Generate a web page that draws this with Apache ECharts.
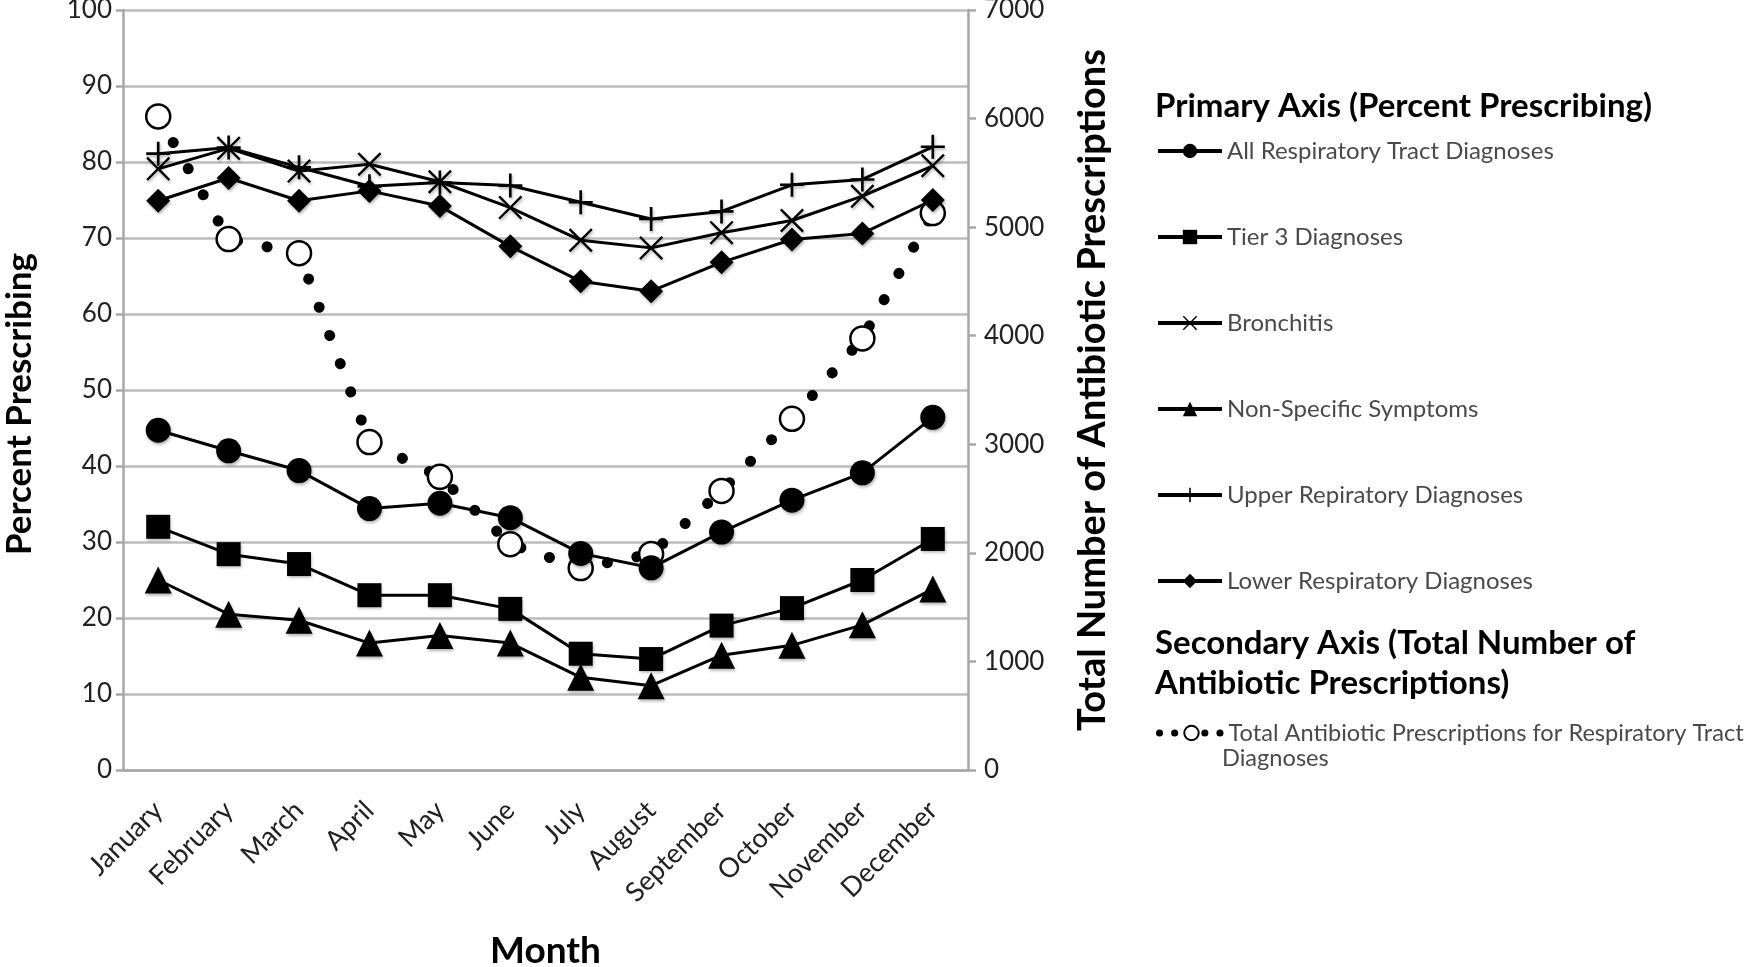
<!DOCTYPE html>
<html><head><meta charset="utf-8">
<script src="https://cdn.jsdelivr.net/npm/echarts@6/dist/echarts.min.js"></script>
<style>html,body{margin:0;padding:0;background:#fff}#c{width:1753px;height:967px}</style>
</head><body><div id="c"></div>
<script>
const months = ['January','February','March','April','May','June','July','August','September','October','November','December'];
const allResp = [44.7, 42.0, 39.4, 34.4, 35.1, 33.2, 28.5, 26.6, 31.3, 35.5, 39.1, 46.4];
const tier3 = [32.0, 28.4, 27.1, 23.0, 23.0, 21.2, 15.3, 14.6, 19.0, 21.3, 25.0, 30.4];
const nonSpecific = [25.0, 20.5, 19.7, 16.7, 17.7, 16.7, 12.2, 11.1, 15.1, 16.4, 19.1, 23.8];
const bronchitis = [79.1, 81.8, 78.8, 79.7, 77.4, 74.0, 69.7, 68.7, 70.7, 72.3, 75.5, 79.5];
const upperResp = [81.1, 81.9, 79.3, 76.8, 77.3, 76.9, 74.7, 72.5, 73.5, 77.0, 77.7, 82.0];
const lowerResp = [74.9, 77.9, 74.9, 76.2, 74.2, 68.9, 64.3, 63.0, 66.8, 69.8, 70.6, 75.0];
const totalRx = [6020, 4890, 4760, 3020, 2700, 2080, 1860, 1990, 2570, 3235, 3975, 5130];
const leftTicks = {min: 0, max: 100, interval: 10};
const rightTicks = {min: 0, max: 7000, interval: 1000};
const names = ['All Respiratory Tract Diagnoses','Tier 3 Diagnoses','Bronchitis','Non-Specific Symptoms','Upper Repiratory Diagnoses','Lower Respiratory Diagnoses'];
const totalName = 'Total Antibiotic Prescriptions for Respiratory Tract';

const FONT = 'Lato';
const xPath = 'path://M0,0.7 L0.7,0 L5,4.3 L9.3,0 L10,0.7 L5.7,5 L10,9.3 L9.3,10 L5,5.7 L0.7,10 L0,9.3 L4.3,5 Z';
const plusPath = 'path://M4.45,0 H5.55 V4.45 H10 V5.55 H5.55 V10 H4.45 V5.55 H0 V4.45 H4.45 Z';

function lineSeries(name, data, symbol, size) {
  return {
    name: name, type: 'line', data: data, yAxisIndex: 0, symbol: symbol, symbolSize: size, z: 3,
    lineStyle: {color: '#000', width: 3},
    itemStyle: {color: '#000', borderWidth: 0, shadowBlur: 3, shadowColor: 'rgba(0,0,0,0.3)', shadowOffsetX: 1, shadowOffsetY: 2}
  };
}

const chart = echarts.init(document.getElementById('c'), null, {renderer: 'canvas'});
chart.setOption({
  animation: false,
  backgroundColor: '#fff',
  textStyle: {fontFamily: FONT},
  grid: {left: 123, right: 785, top: 10, bottom: 197, containLabel: false, outerBoundsMode: 'none'},
  xAxis: {
    type: 'category', data: months, boundaryGap: true,
    axisLine: {show: true, lineStyle: {color: '#a8a8a8', width: 2.5}},
    axisTick: {show: false},
    axisLabel: {rotate: 45, margin: 36, fontSize: 27, color: '#222', fontFamily: FONT},
    name: 'Month', nameLocation: 'middle', nameGap: 163,
    nameTextStyle: {fontSize: 37, fontWeight: 'bold', color: '#000', fontFamily: FONT}
  },
  yAxis: [
    {
      type: 'value', min: leftTicks.min, max: leftTicks.max, interval: leftTicks.interval, position: 'left',
      axisLine: {show: true, lineStyle: {color: '#a8a8a8', width: 2.5}},
      axisTick: {show: true, length: 7, lineStyle: {color: '#a8a8a8', width: 2.5}},
      splitLine: {show: true, lineStyle: {color: '#bdbdbd', width: 2.5}},
      axisLabel: {fontSize: 26, color: '#222', margin: 11, fontFamily: FONT},
      name: 'Percent Prescribing', nameLocation: 'middle', nameGap: 86, nameRotate: 90,
      nameTextStyle: {fontSize: 35, fontWeight: 'bold', color: '#000', fontFamily: FONT, padding: [0, 28, 0, 0]}
    },
    {
      type: 'value', min: rightTicks.min, max: rightTicks.max, interval: rightTicks.interval, position: 'right',
      axisLine: {show: true, lineStyle: {color: '#a8a8a8', width: 2.5}},
      axisTick: {show: true, length: 8, lineStyle: {color: '#a8a8a8', width: 2.5}},
      splitLine: {show: false},
      axisLabel: {fontSize: 26, color: '#222', margin: 16, fontFamily: FONT, formatter: function (v) { return String(v); }},
      name: 'Total Number of Antibiotic Prescriptions', nameLocation: 'middle', nameGap: 106, nameRotate: 90,
      nameTextStyle: {fontSize: 38, fontWeight: 'bold', color: '#000', fontFamily: FONT}
    }
  ],
  legend: [
    {
      data: names, orient: 'vertical', left: 1151, top: 134, itemGap: 62,
      itemWidth: 64, itemHeight: 18,
      lineStyle: {width: 4},
      textStyle: {fontSize: 24, color: '#4a4a4a', fontFamily: FONT},
      selectedMode: false
    },
    {
      data: [totalName], orient: 'vertical', left: 1151, top: 716,
      itemWidth: 64, itemHeight: 18,
      lineStyle: {width: 7, type: [0.1, 15], cap: 'round'},
      textStyle: {fontSize: 23.6, color: '#4a4a4a', fontFamily: FONT},
      selectedMode: false
    }
  ],
  graphic: [
    {type: 'text', left: 1155, top: 90, style: {text: 'Primary Axis (Percent Prescribing)', font: 'bold 33px Lato', fill: '#000'}},
    {type: 'text', left: 1155, top: 623, style: {text: 'Secondary Axis (Total Number of\nAntibiotic Prescriptions)', font: 'bold 33px Lato', lineHeight: 40, fill: '#000'}},
    {type: 'text', left: 1222, top: 746, style: {text: 'Diagnoses', font: '23.6px Lato', fill: '#4a4a4a'}}
  ],
  series: [
    {
      name: totalName, type: 'line', yAxisIndex: 1, data: totalRx, symbol: 'circle', symbolSize: 24, z: 2,
      lineStyle: {color: '#000', width: 11, type: [0.1, 30], cap: 'round'},
      itemStyle: {color: '#fff', borderColor: '#000', borderWidth: 2.5}
    },
    lineSeries(names[0], allResp, 'circle', 25),
    lineSeries(names[1], tier3, 'rect', 24),
    lineSeries(names[2], bronchitis, xPath, 24),
    lineSeries(names[3], nonSpecific, 'triangle', 27),
    lineSeries(names[4], upperResp, plusPath, 24),
    lineSeries(names[5], lowerResp, 'diamond', 24)
  ]
});
</script></body></html>
